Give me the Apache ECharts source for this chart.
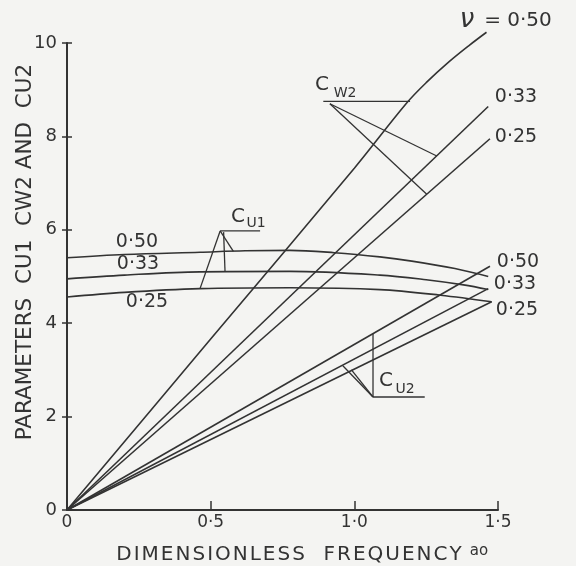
<!DOCTYPE html>
<html>
<head>
<meta charset="utf-8">
<script src="https://cdn.jsdelivr.net/npm/echarts@6/dist/echarts.min.js"></script>
<style>
  html, body { margin: 0; padding: 0; background: #f4f4f2; }
  #chart { width: 576px; height: 566px; }
</style>
</head>
<body>
<div id="chart"></div>
<script>
// Axis ticks and their printed labels
const xTicks = [0, 0.5, 1.0, 1.5];
const xTickLabels = ['0', '0·5', '1·0', '1·5'];
const yTicks = [0, 2, 4, 6, 8, 10];
const yTickLabels = ['0', '2', '4', '6', '8', '10'];

// C_W2 against a0 for Poisson's ratio 0.50, 0.33, 0.25
const cw2_050 = [[0, 0], [0.5, 3.66], [1.0, 7.32], [1.18, 8.70], [1.25, 9.15], [1.33, 9.60], [1.40, 9.95], [1.46, 10.23]];
const cw2_033 = [[0, 0], [1.466, 8.64]];
const cw2_025 = [[0, 0], [1.472, 7.95]];

// C_U1 against a0
const cu1_050 = [[0, 5.40], [0.2, 5.47], [0.463, 5.52], [0.62, 5.55], [0.776, 5.56], [0.93, 5.51], [1.089, 5.42], [1.2, 5.33], [1.35, 5.17], [1.466, 5.0]];
const cu1_033 = [[0, 4.95], [0.2, 5.03], [0.463, 5.10], [0.776, 5.11], [1.089, 5.03], [1.25, 4.93], [1.38, 4.82], [1.466, 4.72]];
const cu1_025 = [[0, 4.56], [0.2, 4.66], [0.463, 4.74], [0.776, 4.76], [1.089, 4.72], [1.3, 4.60], [1.478, 4.46]];

// C_U2 against a0
const cu2_050 = [[0, 0], [1.472, 5.22]];
const cu2_033 = [[0, 0], [1.466, 4.74]];
const cu2_025 = [[0, 0], [1.478, 4.46]];

// Leader lines tying the family labels to their curves (data units)
const leadCw2 = [[[0.892, 8.75], [1.194, 8.75]], [[0.915, 8.70], [1.287, 7.58]], [[0.915, 8.70], [1.252, 6.76]]];
const leadCu1 = [[[0.533, 5.975], [0.672, 5.975]], [[0.533, 5.975], [0.463, 4.74]], [[0.545, 5.95], [0.550, 5.10]], [[0.533, 5.975], [0.579, 5.54]]];
const leadCu2 = [[[1.065, 2.42], [1.245, 2.42]], [[1.065, 3.78], [1.065, 2.42]], [[1.065, 2.42], [0.96, 3.09]], [[1.065, 2.42], [0.99, 3.0]]];

const INK = '#333';
const FONT = 'DejaVu Sans';
const HAIR = '\u200A';
const spaced = s => s.split('').join(HAIR);

const chart = echarts.init(document.getElementById('chart'), null, { renderer: 'canvas' });

function curve(data, smooth) {
  return {
    type: 'line', data: data, showSymbol: false, symbol: 'none', smooth: smooth ? 0.35 : false,
    clip: false, silent: true, animation: false,
    lineStyle: { color: INK, width: 1.6 }
  };
}
function leaders(list) {
  return list.map(seg => ({
    type: 'line', data: seg, showSymbol: false, symbol: 'none', clip: false, silent: true, animation: false,
    lineStyle: { color: INK, width: 1.3 }
  }));
}

const labelText = (text, x, y, size, extra) => Object.assign({
  type: 'text', x: x, y: y, silent: true,
  style: { text: text, fill: INK, fontFamily: FONT, fontSize: size, align: 'center', verticalAlign: 'middle' }
}, extra || {});

chart.setOption({
  backgroundColor: '#f4f4f2',
  animation: false,
  grid: { left: 67, right: 78, top: 43, bottom: 56, containLabel: false },
  xAxis: {
    type: 'value', min: 0, max: 1.5, interval: 0.5,
    axisLine: { show: true, onZero: false, lineStyle: { color: INK, width: 2 } },
    axisTick: { show: true, inside: true, length: 9, lineStyle: { color: INK, width: 1.5 } },
    axisLabel: {
      color: INK, fontFamily: FONT, fontSize: 17, margin: 4,
      formatter: v => xTickLabels[xTicks.indexOf(+v.toFixed(1))] || ''
    },
    splitLine: { show: false }
  },
  yAxis: [{
    type: 'value', min: 0, max: 10, interval: 2,
    axisLine: { show: true, onZero: false, lineStyle: { color: INK, width: 2 } },
    axisTick: { show: true, length: 5, lineStyle: { color: INK, width: 1.5 } },
    axisLabel: {
      color: INK, fontFamily: FONT, fontSize: 18, margin: 10,
      formatter: v => yTickLabels[yTicks.indexOf(v)] || ''
    },
    splitLine: { show: false }
  }, {
    type: 'value', min: 0, max: 10, interval: 2, position: 'left', offset: 0,
    axisLine: { show: false },
    axisTick: { show: true, inside: true, length: 5, lineStyle: { color: INK, width: 1.5 } },
    axisLabel: { show: false },
    splitLine: { show: false }
  }],
  series: [
    curve(cw2_050, true), curve(cw2_033), curve(cw2_025),
    curve(cu1_050, true), curve(cu1_033, true), curve(cu1_025, true),
    curve(cu2_050), curve(cu2_033), curve(cu2_025)
  ].concat(leaders(leadCw2), leaders(leadCu1), leaders(leadCu2)),
  graphic: [
    // axis titles
    labelText('PARAMETERS  CU1  CW2 AND  CU2', 25, 252, 21.5, { rotation: Math.PI / 2 }),
    labelText(spaced('DIMENSIONLESS  FREQUENCY'), 289, 555, 20),
    labelText('ao', 479, 551, 15),
    // Poisson's ratio labels at the top right
    labelText('ν', 467, 20, 26, { style: { text: 'ν', fill: INK, fontFamily: FONT, fontSize: 26, fontStyle: 'italic', align: 'center', verticalAlign: 'middle' } }),
    labelText('= 0·50', 518, 21, 20),
    labelText('0·33', 516, 97, 19),
    labelText('0·25', 516, 137, 19),
    // C_U1 ratio labels
    labelText('0·50', 137, 242, 19),
    labelText('0·33', 138, 264, 19),
    labelText('0·25', 147, 302, 19),
    // C_U2 ratio labels
    labelText('0·50', 518, 262, 19),
    labelText('0·33', 515, 284, 19),
    labelText('0·25', 517, 310, 19),
    // family labels
    labelText('C', 322, 85, 20), labelText('W2', 345, 93, 14),
    labelText('C', 386, 381, 20), labelText('U2', 405, 389, 14),
    labelText('C', 238, 217, 20), labelText('U1', 256, 223, 14)
  ]
});
</script>
</body>
</html>
